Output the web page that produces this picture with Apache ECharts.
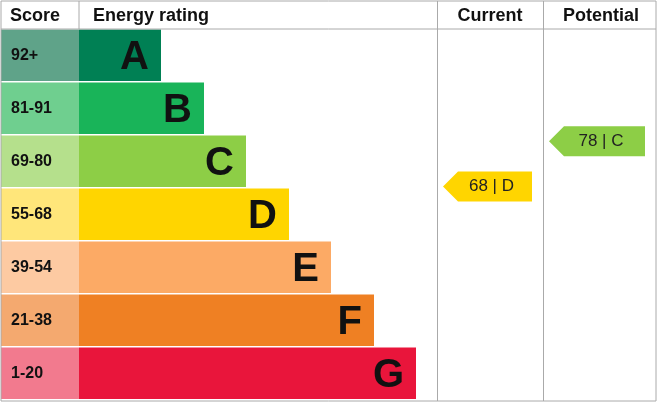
<!DOCTYPE html>
<html><head><meta charset="utf-8">
<script src="https://cdn.jsdelivr.net/npm/echarts@6/dist/echarts.min.js"></script>
<style>html,body{margin:0;padding:0;background:#fff}#c{width:658px;height:404px}</style>
</head><body><div id="c"></div>
<script>
const letters = ['A','B','C','D','E','F','G'];
const scores = ['92+','81-91','69-80','55-68','39-54','21-38','1-20'];
const barLen = [82,125,167,210,252,295,337];
const barColors = ['#008054','#19b459','#8dce46','#ffd500','#fcaa65','#ef8023','#e9153b'];
const scoreColors = ['#5fa389','#6fcf8f','#b5e08c','#ffe67a','#fdcaa2','#f4a96f','#f27a8e'];
const current = {score:68, label:'68 | D', band:3};
const potential = {score:78, label:'78 | C', band:2};
const F = 'Liberation Sans, Arial, sans-serif';

const chart = echarts.init(document.getElementById('c'));
const yCat = (g)=>({type:'category',gridIndex:g,data:letters,inverse:true,show:false});
const yVal = (g)=>({type:'value',gridIndex:g,min:20.67,max:102.9,show:false});
function arrowItem(params, api){
  const p = api.coord([0, api.value(0)]);
  const band = api.value(1);
  const x0 = params.coordSys.x + 6, x1 = params.coordSys.x + params.coordSys.width - 11, h = 30;
  return {type:'group',children:[
    {type:'polygon',shape:{points:[[x0,p[1]],[x0+15,p[1]-h/2],[x1,p[1]-h/2],[x1,p[1]+h/2],[x0+15,p[1]+h/2]]},style:{fill:barColors[band]}},
    {type:'text',style:{text:api.value(2),x:(x0+8+x1)/2,y:p[1],align:'center',verticalAlign:'middle',font:'17px '+F,fill:'#222'}}
  ]};
}
chart.setOption({
  animation:false,
  grid:[
    {left:79,top:29,width:358,height:371},
    {left:1,top:29,width:78,height:371},
    {left:437,top:29,width:106,height:371},
    {left:543,top:29,width:113,height:371}
  ],
  xAxis:[
    {type:'value',gridIndex:0,min:0,max:358,show:false},
    {type:'value',gridIndex:1,min:0,max:1,show:false},
    {type:'value',gridIndex:2,min:0,max:1,show:false},
    {type:'value',gridIndex:3,min:0,max:1,show:false}
  ],
  yAxis:[yCat(0),yCat(1),yVal(2),yVal(3)],
  series:[
    {type:'custom',xAxisIndex:0,yAxisIndex:0,data:barLen.map((v,i)=>[v,i]),
     renderItem:(params,api)=>{
       const i=api.value(1); const s=api.coord([0,i]); const e=api.coord([api.value(0),i]);
       const bh=api.size([0,1])[1];
       return {type:'group',children:[
         {type:'rect',shape:{x:s[0],y:s[1]-bh/2+0.5,width:e[0]-s[0],height:bh-1.5},style:{fill:barColors[i]}},
         {type:'text',style:{text:letters[i],x:e[0]-12,y:s[1]+2,align:'right',verticalAlign:'middle',font:'bold 40px '+F,fill:'#111'}}
       ]};
     }},
    {type:'custom',xAxisIndex:1,yAxisIndex:1,data:scores.map((v,i)=>[1,i]),
     renderItem:(params,api)=>{
       const i=api.value(1); const s=api.coord([0,i]); const e=api.coord([1,i]);
       const bh=api.size([0,1])[1];
       return {type:'group',children:[
         {type:'rect',shape:{x:s[0],y:s[1]-bh/2+0.5,width:e[0]-s[0],height:bh-1.5},style:{fill:scoreColors[i]}},
         {type:'text',style:{text:scores[i],x:s[0]+10,y:s[1],align:'left',verticalAlign:'middle',font:'bold 16px '+F,fill:'#111'}}
       ]};
     }},
    {type:'custom',xAxisIndex:2,yAxisIndex:2,data:[[current.score,current.band,current.label]],renderItem:arrowItem},
    {type:'custom',xAxisIndex:3,yAxisIndex:3,data:[[potential.score,potential.band,potential.label]],renderItem:arrowItem}
  ],
  graphic:[
    {type:'rect',shape:{x:1,y:1,width:655,height:400},style:{fill:'none',stroke:'#aaa',lineWidth:1},z:10},
    {type:'line',shape:{x1:1,y1:29,x2:656,y2:29},style:{stroke:'#aaa'},z:10},
    {type:'line',shape:{x1:79,y1:1,x2:79,y2:29},style:{stroke:'#aaa'},z:10},
    {type:'line',shape:{x1:437.5,y1:1,x2:437.5,y2:401},style:{stroke:'#aaa'},z:10},
    {type:'line',shape:{x1:543.5,y1:1,x2:543.5,y2:401},style:{stroke:'#aaa'},z:10},
    {type:'text',style:{text:'Score',x:10,y:16,verticalAlign:'middle',font:'bold 18px '+F,fill:'#111'}},
    {type:'text',style:{text:'Energy rating',x:93,y:16,verticalAlign:'middle',font:'bold 18px '+F,fill:'#111'}},
    {type:'text',style:{text:'Current',x:490,y:16,align:'center',verticalAlign:'middle',font:'bold 18px '+F,fill:'#111'}},
    {type:'text',style:{text:'Potential',x:601,y:16,align:'center',verticalAlign:'middle',font:'bold 18px '+F,fill:'#111'}}
  ]
});
</script></body></html>
